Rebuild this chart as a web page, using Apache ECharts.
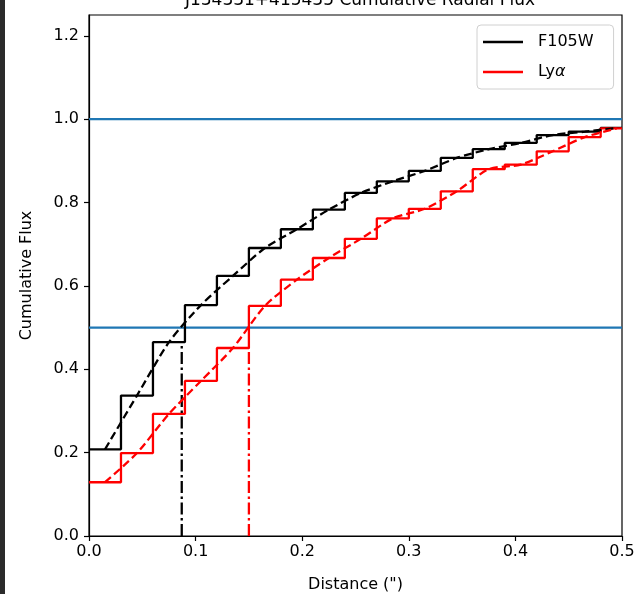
<!DOCTYPE html>
<html>
<head>
<meta charset="utf-8">
<script src="https://cdn.jsdelivr.net/npm/echarts@6/dist/echarts.min.js"></script>
<style>
html,body{margin:0;padding:0;background:#fff;}
#chart{width:639px;height:594px;}
</style>
</head>
<body>
<div id="chart"></div>
<script>
// ---- data ----
const titleText = 'J134331+415435 Cumulative Radial Flux';
const seriesNames = ['F105W', 'Lyα'];
const binEdges = [0, 0.03, 0.06, 0.09, 0.12, 0.15, 0.18, 0.21, 0.24, 0.27, 0.30, 0.33, 0.36, 0.39, 0.42, 0.45, 0.48];
const binEndEdge = 0.5;
const binCenters = [0.015, 0.045, 0.075, 0.105, 0.135, 0.165, 0.195, 0.225, 0.255, 0.285, 0.315, 0.345, 0.375, 0.405, 0.435, 0.465, 0.495];
const f105wFlux = [0.208, 0.337, 0.465, 0.554, 0.624, 0.691, 0.736, 0.783, 0.823, 0.851, 0.876, 0.907, 0.928, 0.943, 0.962, 0.970, 0.979];
const lyaFlux   = [0.129, 0.199, 0.293, 0.372, 0.451, 0.552, 0.615, 0.667, 0.713, 0.762, 0.785, 0.827, 0.880, 0.891, 0.923, 0.957, 0.978];
const halfRadius = [0.087, 0.150];   // F105W, Lyα
const halfRadiusTop = [0.465, 0.451];
const refLevels = [0.5, 1.0];
const xTicks = [0, 0.1, 0.2, 0.3, 0.4, 0.5];
const yTicks = [0, 0.2, 0.4, 0.6, 0.8, 1.0, 1.2];
const xRange = [0, 0.5];
const yRange = [0, 1.25];

// ---- build ----
const FONT = 'DejaVu Sans';
const colors = ['#000000', '#ff0000'];
const blue = '#1f77b4';

function stepData(vals) {
  const d = binEdges.map((x, i) => [x, vals[i]]);
  d.push([binEndEdge, vals[vals.length - 1]]);
  return d;
}
function centerData(vals) {
  return binCenters.map((x, i) => [x, vals[i]]);
}

const fluxes = [f105wFlux, lyaFlux];
const series = [];
fluxes.forEach((vals, k) => {
  series.push({
    name: seriesNames[k], type: 'line', step: 'end', symbol: 'none',
    data: stepData(vals), lineStyle: {color: colors[k], width: 2.3}, itemStyle: {color: colors[k]},
    z: 3, animation: false
  });
  series.push({
    name: seriesNames[k] + ' fit', type: 'line', symbol: 'none', smooth: 0.25,
    data: centerData(vals), lineStyle: {color: colors[k], width: 2.3, type: [8, 4]},
    z: 4, animation: false
  });
  series.push({
    name: seriesNames[k] + ' r50', type: 'line', symbol: 'none',
    data: [[halfRadius[k], 0], [halfRadius[k], halfRadiusTop[k]]],
    lineStyle: {color: colors[k], width: 2.3, type: [12, 3.5, 2.5, 3.5]},
    z: 4, animation: false
  });
});
refLevels.forEach((lv, i) => {
  series.push({
    name: 'ref' + i, type: 'line', symbol: 'none',
    data: [[xRange[0], lv], [xRange[1], lv]],
    lineStyle: {color: blue, width: 2.2}, z: 2, animation: false
  });
});

const chart = echarts.init(document.getElementById('chart'), null, {renderer: 'canvas'});
chart.setOption({
  animation: false,
  backgroundColor: '#ffffff',
  title: {
    text: titleText, left: 355, top: -13, textAlign: 'center',
    textStyle: {fontFamily: FONT, fontSize: 17, fontWeight: 'normal', color: '#000'}
  },
  graphic: [{
    type: 'rect', left: 0, top: 0, shape: {x: 0, y: 0, width: 5, height: 594},
    style: {fill: '#2b2b2b'}, z: 100
  }],
  legend: {
    orient: 'vertical', left: 477, top: 25,
    data: seriesNames.map(n => ({name: n, icon: 'rect'})),
    itemWidth: 40, itemHeight: 2.5, itemGap: 14,
    padding: [9, 20, 9, 6],
    borderColor: '#d0d0d0', borderWidth: 1, borderRadius: 4,
    backgroundColor: 'rgba(255,255,255,0.85)',
    formatter: function (n) { return n === 'Lyα' ? '{n|Ly}{g|α}' : '{n|' + n + '}'; },
    textStyle: {
      fontFamily: FONT, fontSize: 16, color: '#000',
      rich: {
        n: {fontFamily: FONT, fontSize: 16, color: '#000', padding: [0, 0, 0, 10]},
        g: {fontFamily: FONT, fontSize: 16, color: '#000', fontStyle: 'italic'}
      }
    }
  },
  grid: {left: 89, right: 17, top: 15, bottom: 58, outerBoundsMode: 'none', containLabel: false,
    show: true, borderColor: '#000', borderWidth: 1.2, backgroundColor: 'transparent'},
  xAxis: {
    type: 'value', min: xRange[0], max: xRange[1], interval: 0.1,
    name: 'Distance (")', nameLocation: 'middle', nameGap: 41,
    nameTextStyle: {fontFamily: FONT, fontSize: 16, color: '#000'},
    axisLine: {show: true, lineStyle: {color: '#000', width: 1.2}},
    axisTick: {show: true, inside: false, length: 5, lineStyle: {color: '#000', width: 1.2}, customValues: xTicks},
    axisLabel: {fontFamily: FONT, fontSize: 16, color: '#000', margin: 8, customValues: xTicks,
      formatter: v => v.toFixed(1)},
    splitLine: {show: false}
  },
  yAxis: {
    type: 'value', min: yRange[0], max: yRange[1], interval: 0.2,
    name: 'Cumulative Flux', nameLocation: 'middle', nameGap: 54,
    nameTextStyle: {fontFamily: FONT, fontSize: 16, color: '#000'},
    axisLine: {show: true, lineStyle: {color: '#000', width: 1.2}},
    axisTick: {show: true, inside: false, length: 5, lineStyle: {color: '#000', width: 1.2}, customValues: yTicks},
    axisLabel: {fontFamily: FONT, fontSize: 16, color: '#000', margin: 10, customValues: yTicks,
      formatter: v => v.toFixed(1)},
    splitLine: {show: false}
  },
  series: series
});
</script>
</body>
</html>
